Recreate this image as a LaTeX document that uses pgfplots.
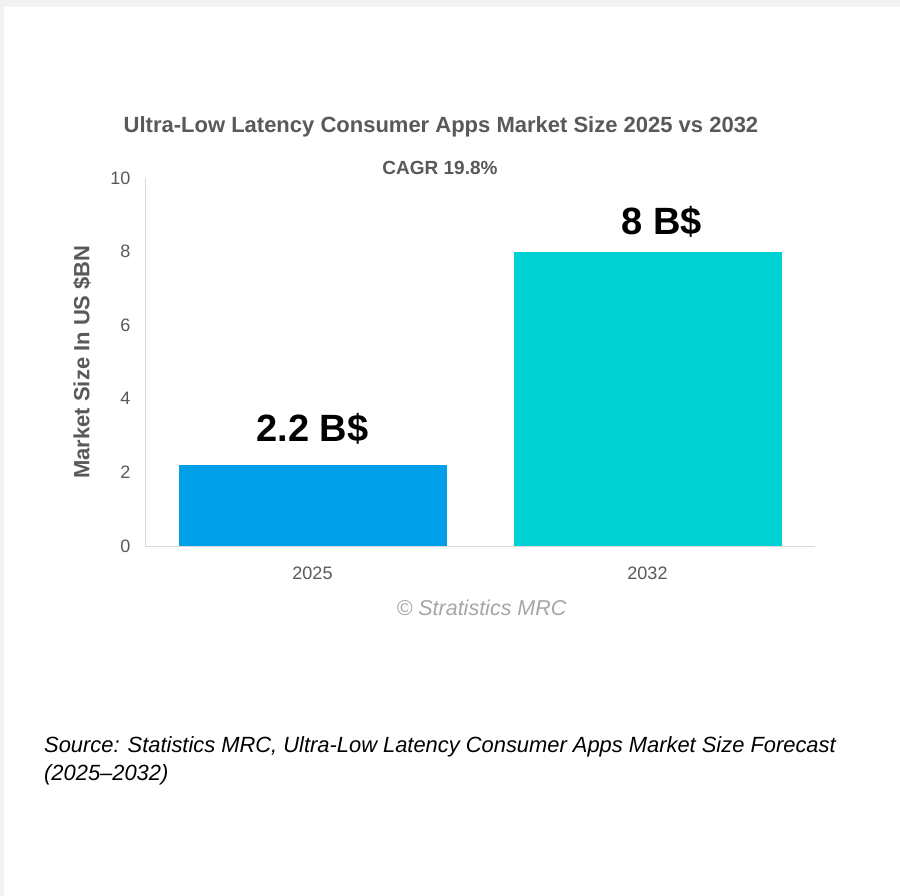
\documentclass[border=0pt]{standalone}
\usepackage{pgfplots}
\pgfplotsset{compat=1.18}
\usepackage{fontspec}
\setmainfont{Liberation Sans}
\usepackage{graphicx}
\definecolor{barA}{HTML}{009FE8}
\definecolor{barB}{HTML}{00D2D3}
\definecolor{txtgray}{HTML}{595959}
\definecolor{axgray}{HTML}{D9D9D9}
\definecolor{framegray}{HTML}{F2F2F2}
\definecolor{wmgray}{HTML}{A6A6A6}
\begin{document}
\begin{tikzpicture}[x=1pt,y=1pt]
\fill[white] (0,0) rectangle (900,-896);
\fill[framegray] (0,0) rectangle (900,-7);
\fill[framegray] (0,0) rectangle (4,-896);
\begin{axis}[
  at={(145pt,-546pt)}, anchor=south west,
  scale only axis, width=670pt, height=368pt,
  xmin=-0.5, xmax=1.5, ymin=0, ymax=10,
  axis lines=left,
  axis line style={draw=axgray, line width=1pt, -},
  ytick={0,2,4,6,8,10},
  xtick={0,1}, xticklabels={2025,2032},
  major tick length=0pt,
  tick label style={font=\fontsize{18}{20}\selectfont, text=txtgray},
  yticklabel style={xshift=-11pt},
  xticklabel style={yshift=-17pt},
  /pgf/number format/assume math mode=true,
  ylabel={Market Size In US \$BN},
  ylabel style={at={(axis description cs:-0.094,0.5)}, anchor=center, font=\bfseries\fontsize{22}{24}\selectfont, text=txtgray},
  clip=false,
]
\addplot[ybar, bar width=0.8, bar shift=0pt, fill=barA, draw=none,
  nodes near coords={2.2 B\$},
  every node near coord/.append style={font=\bfseries\fontsize{38}{40}\selectfont, text=black, anchor=base, yshift=24pt}]
  coordinates {(0,2.2)};
\addplot[ybar, bar width=0.8, bar shift=0pt, fill=barB, draw=none,
  nodes near coords={8 B\$},
  every node near coord/.append style={font=\bfseries\fontsize{38}{40}\selectfont, text=black, anchor=base, yshift=17pt, xshift=14pt}]
  coordinates {(1,8)};
\end{axis}
\node[anchor=center, text=txtgray, font=\bfseries\fontsize{22}{25}\selectfont] at (441,-127) {Ultra-Low Latency Consumer Apps Market Size 2025 vs 2032};
\node[anchor=center, text=txtgray, font=\bfseries\fontsize{19}{22}\selectfont] at (440,-168) {CAGR 19.8\%};
\node[anchor=center, text=wmgray, font=\itshape\fontsize{21.5}{24}\selectfont] at (481.5,-608) {© Stratistics MRC};
\node[anchor=base west, inner sep=0pt, font=\itshape\fontsize{22}{26}\selectfont] at (44,-752) {\scalebox{0.995}[1]{Source: Statistics MRC, Ultra-Low Latency Consumer Apps Market Size Forecast}};
\node[anchor=base west, inner sep=0pt, font=\itshape\fontsize{22}{26}\selectfont] at (44,-780) {\scalebox{0.995}[1]{(2025–2032)}};
\end{tikzpicture}
\end{document}
